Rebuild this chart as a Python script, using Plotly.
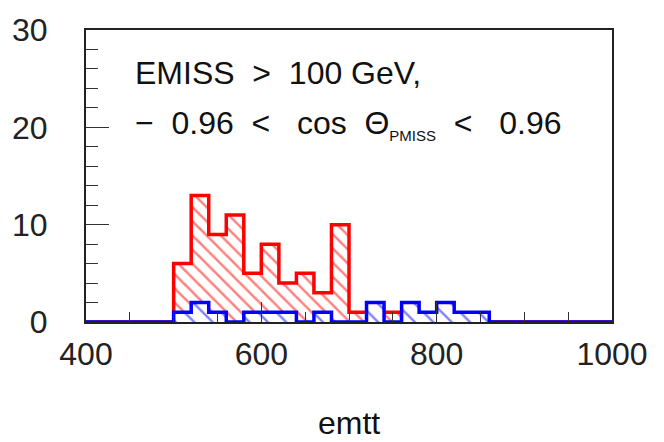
import plotly.graph_objects as go

# Histogram bins (lower edges, GeV), width 20
bin_edges = list(range(400, 1001, 20))

# Red histogram counts per bin (400-1000)
red_counts = [0, 0, 0, 0, 0,
              6, 13, 9, 11, 5, 8, 4, 5, 3, 10,
              1, 1, 1, 0, 0, 0, 0, 0,
              0, 0, 0, 0, 0, 0, 0]
# Blue histogram counts per bin
blue_counts = [0, 0, 0, 0, 0,
               1, 2, 1, 0, 1, 1, 1, 0, 1, 0,
               0, 2, 0, 2, 1, 2, 1, 1,
               0, 0, 0, 0, 0, 0, 0]

x_ticks = [400, 600, 800, 1000]
y_ticks = [0, 10, 20, 30]

FONT = "Liberation Sans"

fig = go.Figure()

def step_trace(counts, color, size, solidity):
    return go.Scatter(
        x=bin_edges,
        y=counts + [counts[-1]],
        mode="lines",
        line=dict(color=color, width=3.5, shape="hv"),
        fill="tozeroy",
        fillcolor="rgba(0,0,0,0)",
        fillpattern=dict(shape="\\", fgcolor=color, bgcolor="white",
                         size=size, solidity=solidity),
        hoverinfo="skip",
        showlegend=False,
    )

fig.add_trace(step_trace(red_counts, "#ff0000", 10, 0.25))
fig.add_trace(step_trace(blue_counts, "#0000ff", 13, 0.18))

axis_common = dict(
    showline=True, mirror=True, linecolor="#222222", linewidth=2,
    showgrid=False, zeroline=False,
    ticks="inside", tickcolor="#333333", tickwidth=1,
    tickfont=dict(family=FONT, size=32, color="#222222"),
)

fig.update_xaxes(
    range=[400, 1000], tickvals=x_ticks, ticklen=20,
    minor=dict(dtick=50, tick0=400, ticks="inside", ticklen=10,
               tickcolor="#333333", tickwidth=1, showgrid=False),
    ticklabelstandoff=3,
    **axis_common,
)
fig.update_yaxes(
    range=[0, 30], tickvals=y_ticks, ticklen=23,
    minor=dict(dtick=2, tick0=0, ticks="inside", ticklen=12,
               tickcolor="#333333", tickwidth=1, showgrid=False),
    ticklabelstandoff=30,
    **axis_common,
)

fig.add_annotation(
    x=(130 - 83) / 529, y=(322 - 66.5) / 300, xref="paper", yref="paper",
    xanchor="left", yanchor="middle", showarrow=False,
    text="EMISS  >  100 GeV,",
    font=dict(family=FONT, size=32, color="#111111"),
)
fig.add_annotation(
    x=(130 - 83) / 529, y=(322 - 119.5) / 300, xref="paper", yref="paper",
    xanchor="left", yanchor="middle", showarrow=False,
    text="−  0.96  <   cos  Θ<sub><span style='font-size:15px'>PMISS</span></sub>  <   0.96",
    font=dict(family=FONT, size=32, color="#111111"),
)
fig.add_annotation(
    x=0.5, y=(322 - 426) / 300, xref="paper", yref="paper",
    xanchor="center", yanchor="middle", showarrow=False,
    text="emtt",
    font=dict(family=FONT, size=32, color="#111111"),
)

fig.update_layout(
    width=664, height=442,
    margin=dict(l=83, r=52, t=22, b=120),
    paper_bgcolor="white", plot_bgcolor="white",
)

fig.write_html("out.html")
